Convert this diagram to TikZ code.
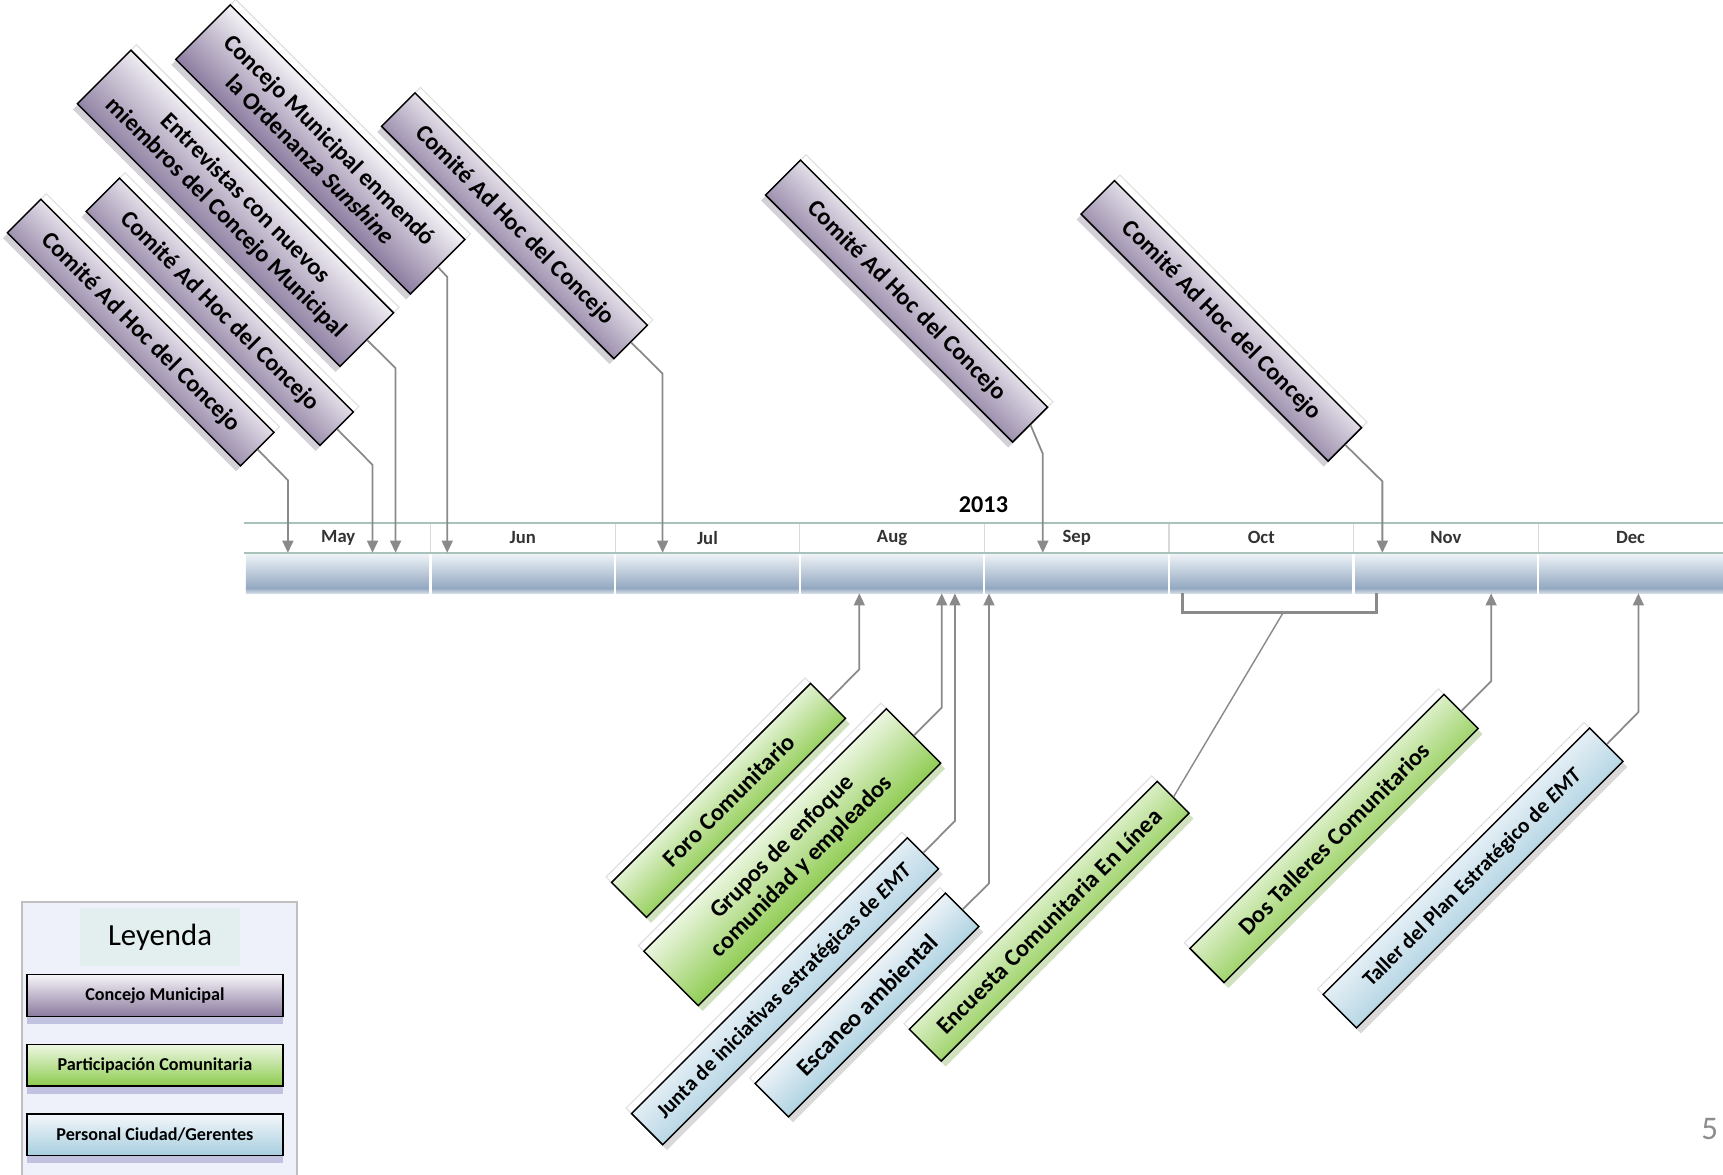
\documentclass[tikz,border=0pt]{standalone}
\usepackage{fontspec}
\setmainfont{Carlito}
\usetikzlibrary{calc, positioning, chains, shadows, arrows.meta}

\definecolor{cmhi}{HTML}{F6F4F8}
\definecolor{cmlo}{HTML}{8A7A9E}
\definecolor{pchi}{HTML}{EEF7E4}
\definecolor{pclo}{HTML}{8DCB4F}
\definecolor{pghi}{HTML}{F5F7FA}
\definecolor{pglo}{HTML}{A6CEDF}
\definecolor{lnk}{HTML}{8A8A8A}
\definecolor{rowln}{HTML}{A9C2BC}
\definecolor{barhi}{HTML}{F1F5F9}
\definecolor{barlo}{HTML}{93A8C1}
\definecolor{lgbg}{HTML}{EEF0FA}
\definecolor{lghd}{HTML}{E3EEEE}

% gradients across the short side of the slanted boxes
\pgfdeclareverticalshading{cmfill}{100bp}{color(0bp)=(cmlo); color(43bp)=(cmlo); color(57bp)=(cmhi); color(100bp)=(cmhi)}
\pgfdeclareverticalshading{pcfill}{100bp}{color(0bp)=(pclo); color(43bp)=(pclo); color(57bp)=(pchi); color(100bp)=(pchi)}
\pgfdeclareverticalshading{pgfill}{100bp}{color(0bp)=(pglo); color(43bp)=(pglo); color(57bp)=(pghi); color(100bp)=(pghi)}

\begin{document}
\begin{tikzpicture}[x=1pt, y=-1pt,
    evt/.style={draw=black, line width=1.3pt, inner sep=2pt, align=center,
                font=\bfseries\fontsize{22}{25}\selectfont, minimum height=43pt},
    ghost/.style={general shadow={shadow xshift=#1, shadow yshift=5pt, fill=white, draw=black!12, line width=1pt}},
    cmbox/.style={evt, rotate=-45, shade, shading=cmfill, shading angle=-45,
               ghost=5pt,
               drop shadow={shadow xshift=-4pt, shadow yshift=-5pt, fill=cmlo!80!black, opacity=0.3}},
    pcbox/.style={evt, rotate=45, shade, shading=pcfill, shading angle=45,
               ghost=-5pt,
               drop shadow={shadow xshift=4pt, shadow yshift=-5pt, fill=pclo!85!black, opacity=0.35}},
    pgbox/.style={evt, rotate=45, shade, shading=pgfill, shading angle=45,
               ghost=-5pt,
               drop shadow={shadow xshift=4pt, shadow yshift=-5pt, fill=gray, opacity=0.3}},
    link/.style={draw=lnk, line width=1.6pt, -{Triangle[width=10pt, length=11pt]}},
    lgitem/.style={draw=black, line width=1.3pt, minimum width=233pt, minimum height=38pt,
                   font=\bfseries\fontsize{16.5}{16.5}\selectfont,
                   drop shadow={shadow xshift=0pt, shadow yshift=-7pt, fill=gray!70!blue, opacity=0.3}}]

\useasboundingbox (0,0) rectangle (1568,1069);

% month row and bar of the year
\begin{scope}[start chain, node distance=0pt,
              every node/.style={on chain, minimum width=167.6pt, minimum height=27pt, inner sep=0pt,
                                 font=\bfseries\fontsize{17}{17}\selectfont, text=black!80}]
    \node (may) at (307.8,489.5) {May};
    \node (jun) {Jun};
    \node (jul) {Jul};
    \node (aug) {Aug};
    \node (sep) {Sep};
    \node (oct) {Oct};
    \node (nov) {Nov};
    \node (dec) {Dec};
\end{scope}

\shade[top color=barhi, bottom color=barlo] (may.south west) rectangle ([yshift=-32pt]dec.south east);
\shade[top color=barlo, bottom color=barlo!35!white] ([yshift=-32pt]may.south west) rectangle ([yshift=-37pt]dec.south east);
\foreach \m in {jun, jul, aug, sep, oct, nov, dec} {
    \draw[black!15, line width=1pt] (\m.north west) -- (\m.south west);
    \draw[white, line width=2pt] (\m.south west) -- ([yshift=-37pt]\m.south west);
}
\draw[rowln, line width=2pt] ([xshift=-2pt]may.north west) -- ([xshift=4pt]dec.north east);
\draw[rowln, line width=2pt] ([xshift=-2pt]may.south west) -- ([xshift=4pt]dec.south east);

\node[font=\bfseries\fontsize{22}{22}\selectfont] (yr) at (895,459) {2013};

\coordinate (row) at (0,503);
\coordinate (bar) at (0,540);

% Concejo Municipal
\node[cmbox, minimum width=300pt] (b1) at (128,302.6) {Comité Ad Hoc del Concejo};
\node[cmbox, minimum width=301pt] (b2) at (200,283.7) {Comité Ad Hoc del Concejo};
\node[cmbox, minimum width=338pt, minimum height=69pt] (b3) at (214.3,189.6) {Entrevistas con nuevos\\miembros del Concejo Municipal};
\node[cmbox, minimum width=302pt, minimum height=70pt] (b4) at (291.5,136) {Concejo Municipal enmendó\\la Ordenanza \textit{Sunshine}};
\node[cmbox, minimum width=299pt] (b5) at (468.2,205.5) {Comité Ad Hoc del Concejo};
\node[cmbox, minimum width=318pt, minimum height=45pt] (b6) at (825,274) {Comité Ad Hoc del Concejo};
\node[cmbox, minimum width=318pt] (b7) at (1111.4,292) {Comité Ad Hoc del Concejo};

\coordinate (k1) at (262,437);
\coordinate (k2) at (339,423);
\coordinate (k3) at (360,335);
\coordinate (k4) at (407,252);
\coordinate (k5) at (603,340);
\coordinate (k6) at (949,413);
\coordinate (k7) at (1258,438);
\foreach \i in {1,...,7} \draw[link] (b\i.east) -- (k\i) -- (k\i |- row);

% Participacion Comunitaria and Personal Ciudad/Gerentes
\node[pcbox, minimum width=256pt, minimum height=45pt] (f1) at (663,728.4) {Foro Comunitario};
\node[pcbox, minimum width=312pt, minimum height=70pt] (f2) at (721,780) {Grupos de enfoque\\comunidad y empleados};
\node[pgbox, minimum width=355pt, minimum height=40pt, font=\bfseries\fontsize{19.5}{22}\selectfont] (s1) at (714.4,902) {Junta de iniciativas estratégicas de \textit{EMT}};
\node[pgbox, minimum width=245pt] (s2) at (789,914.6) {Escaneo ambiental};
\node[pcbox, minimum width=319pt, minimum height=41pt] (f3) at (954.8,838.3) {Encuesta Comunitaria En Línea};
\node[pcbox, minimum width=327pt, minimum height=44pt] (f4) at (1214,763) {Dos Talleres Comunitarios};
\node[pgbox, minimum width=343pt, font=\bfseries\fontsize{19.5}{22}\selectfont] (s3) at (1340.5,799) {Taller del Plan Estratégico de \textit{EMT}};

\coordinate (j1) at (782,609);
\coordinate (j2) at (857,644);
\coordinate (j3) at (869,747);
\coordinate (j4) at (900,804);
\coordinate (j5) at (1357,620);
\coordinate (j6) at (1491,648);
\draw[link] (f1.east) -- (j1) -- (j1 |- bar);
\draw[link] (f2.east) -- (j2) -- (j2 |- bar);
\draw[link] (s1.east) -- (j3) -- (j3 |- bar);
\draw[link] (s2.east) -- (j4) -- (j4 |- bar);
\draw[link] (f4.east) -- (j5) -- (j5 |- bar);
\draw[link] (s3.east) -- (j6) -- (j6 |- bar);

% bracket over October
\coordinate (brl) at (1076,540);
\coordinate (brr) at (1253,540);
\coordinate (brm) at (1168,557);
\draw[lnk, line width=2.6pt] (brl) |- (brr |- brm) -- (brr);
\draw[lnk, line width=1.3pt] (f3.east) -- (brm);

% legend
\fill[lgbg] (20,821) rectangle (270,1069);
\draw[black!25, line width=1.5pt] (20,1069) |- (270,821) -- (270,1069);
\node[fill=lghd, minimum width=146pt, minimum height=53pt, font=\fontsize{28}{28}\selectfont] (lgh) at (145.6,853) {Leyenda};
\node[lgitem, top color=cmhi, bottom color=cmlo] (lg1) at (141,906) {Concejo Municipal};
\node[lgitem, top color=pchi, bottom color=pclo, below=24pt of lg1] (lg2) {Participación Comunitaria};
\node[lgitem, top color=pghi, bottom color=pglo, below=24pt of lg2] (lg3) {Personal Ciudad/Gerentes};

\node[text=black!45, font=\fontsize{30}{30}\selectfont] (pgn) at (1556,1027) {5};

\end{tikzpicture}
\end{document}
